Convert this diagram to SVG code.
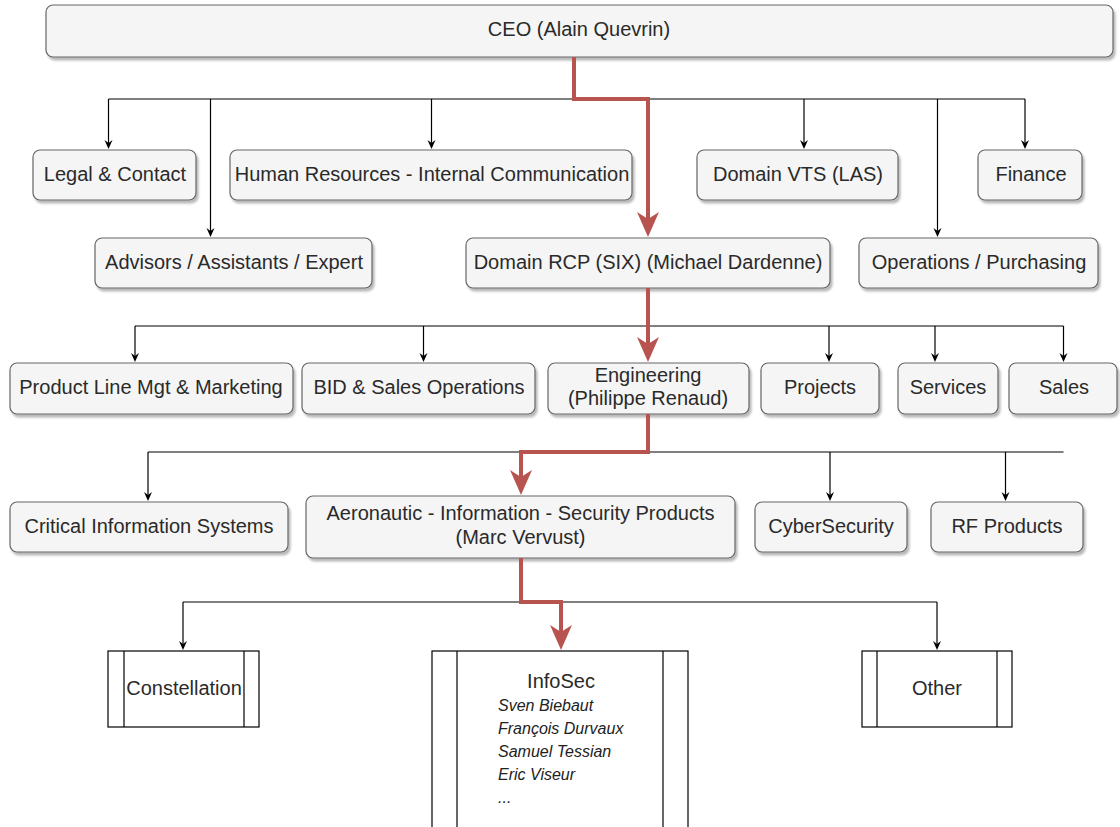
<svg xmlns="http://www.w3.org/2000/svg" width="1120" height="827" viewBox="0 0 1120 827">
  <defs>
    <filter id="shadow" x="-5%" y="-20%" width="110%" height="150%">
      <feDropShadow dx="2" dy="3" stdDeviation="1.2" flood-color="#000" flood-opacity="0.28"/>
    </filter>
    <!-- thin black arrowhead; path ends at the notch, tip reaches 6px further -->
    <marker id="arrow" markerUnits="userSpaceOnUse" markerWidth="11" markerHeight="10" viewBox="-10 -5 11 10" refX="-6" refY="0" orient="auto">
      <path d="M0,0 L-9,-4 L-6,0 L-9,4 Z" fill="#000"/>
    </marker>
    <!-- thick red arrowhead for the highlighted reporting line -->
    <marker id="arrow-red" markerUnits="userSpaceOnUse" markerWidth="28" markerHeight="26" viewBox="-26 -13 28 26" refX="-18" refY="0" orient="auto">
      <path d="M0,0 L-25,-11 L-18,0 L-25,11 Z" fill="#b85450"/>
    </marker>
    <style>
      .box { fill: #f5f5f5; stroke: #666666; stroke-width: 1.2; filter: url(#shadow); }
      .proc { fill: #ffffff; stroke: #000000; stroke-width: 1.2; }
      .lbl { font-family: "Liberation Sans", Arial, sans-serif; font-size: 20px; fill: #2a2a2a; text-anchor: middle; dominant-baseline: central; }
      .name { font-family: "Liberation Sans", Arial, sans-serif; font-size: 16px; font-style: italic; fill: #222222; }
      .link { fill: none; stroke: #000; stroke-width: 1.2; marker-end: url(#arrow); }
      .bus { fill: none; stroke: #000; stroke-width: 1.2; }
      .path-red-end { fill: none; stroke: #b85450; stroke-width: 4; marker-end: url(#arrow-red); }
    </style>
  </defs>

  <!-- Nodes -->
  <g id="ceo"><rect class="box" x="46" y="5" width="1067" height="52" rx="7"/><text class="lbl" x="579" y="29">CEO (Alain Quevrin)</text></g>

  <g id="legal"><rect class="box" x="33" y="150" width="163" height="50" rx="7"/><text class="lbl" x="115" y="173.5">Legal &amp; Contact</text></g>
  <g id="hr"><rect class="box" x="230" y="150" width="402" height="50" rx="7"/><text class="lbl" x="432" y="173.5">Human Resources - Internal Communication</text></g>
  <g id="vts"><rect class="box" x="697" y="150" width="201" height="50" rx="7"/><text class="lbl" x="798" y="173.5">Domain VTS (LAS)</text></g>
  <g id="finance"><rect class="box" x="978" y="150" width="104" height="50" rx="7"/><text class="lbl" x="1031" y="173.5">Finance</text></g>

  <g id="advisors"><rect class="box" x="95" y="238" width="277" height="50" rx="7"/><text class="lbl" x="234" y="261.5">Advisors / Assistants / Expert</text></g>
  <g id="rcp"><rect class="box" x="466" y="238" width="364" height="50" rx="7"/><text class="lbl" x="648" y="261.5">Domain RCP (SIX) (Michael Dardenne)</text></g>
  <g id="operations"><rect class="box" x="859" y="238" width="239" height="50" rx="7"/><text class="lbl" x="979" y="261.5">Operations / Purchasing</text></g>

  <g id="product-line"><rect class="box" x="10" y="363" width="283" height="51" rx="7"/><text class="lbl" x="151" y="387">Product Line Mgt &amp; Marketing</text></g>
  <g id="bid"><rect class="box" x="302" y="363" width="233" height="51" rx="7"/><text class="lbl" x="419" y="387">BID &amp; Sales Operations</text></g>
  <g id="engineering"><rect class="box" x="548" y="363" width="201" height="51" rx="7"/><text class="lbl" x="648" y="375">Engineering</text><text class="lbl" x="648" y="398">(Philippe Renaud)</text></g>
  <g id="projects"><rect class="box" x="761" y="363" width="118" height="51" rx="7"/><text class="lbl" x="820" y="387">Projects</text></g>
  <g id="services"><rect class="box" x="898" y="363" width="100" height="51" rx="7"/><text class="lbl" x="948" y="387">Services</text></g>
  <g id="sales"><rect class="box" x="1009" y="363" width="108" height="51" rx="7"/><text class="lbl" x="1064" y="387">Sales</text></g>

  <g id="critical"><rect class="box" x="10" y="502" width="278" height="50" rx="7"/><text class="lbl" x="149" y="525.5">Critical Information Systems</text></g>
  <g id="aeronautic"><rect class="box" x="306" y="496" width="429" height="62" rx="7"/><text class="lbl" x="520.5" y="513">Aeronautic - Information - Security Products</text><text class="lbl" x="520.5" y="537">(Marc Vervust)</text></g>
  <g id="cybersecurity"><rect class="box" x="755" y="502" width="152" height="50" rx="7"/><text class="lbl" x="831" y="525.5">CyberSecurity</text></g>
  <g id="rf"><rect class="box" x="931" y="502" width="152" height="50" rx="7"/><text class="lbl" x="1007" y="525.5">RF Products</text></g>

  <g id="constellation"><rect class="proc" x="108" y="651" width="151" height="76"/><line class="proc" x1="124" y1="651" x2="124" y2="727"/><line class="proc" x1="244" y1="651" x2="244" y2="727"/><text class="lbl" x="184" y="687.5">Constellation</text></g>
  <g id="infosec"><rect class="proc" x="432" y="651" width="256" height="180"/><line class="proc" x1="457" y1="651" x2="457" y2="831"/><line class="proc" x1="663" y1="651" x2="663" y2="831"/>
    <text class="lbl" x="561" y="681">InfoSec</text>
    <text class="name" x="498" y="711">Sven Biebaut</text>
    <text class="name" x="498" y="734">François Durvaux</text>
    <text class="name" x="498" y="757">Samuel Tessian</text>
    <text class="name" x="498" y="780">Eric Viseur</text>
    <text class="name" x="498" y="803">...</text>
  </g>
  <g id="other"><rect class="proc" x="862" y="651" width="150" height="76"/><line class="proc" x1="877" y1="651" x2="877" y2="727"/><line class="proc" x1="997" y1="651" x2="997" y2="727"/><text class="lbl" x="937" y="687.5">Other</text></g>

  <!-- Connectors -->
  <g id="connectors">
    <!-- CEO level -->
    <path class="bus" d="M108.5,99 H1025"/>
    <path class="link" d="M108.5,99 V143"/>
    <path class="link" d="M210.5,99 V231"/>
    <path class="link" d="M431.5,99 V143"/>
    <path class="link" d="M804,99 V143"/>
    <path class="link" d="M937.5,99 V231"/>
    <path class="link" d="M1025,99 V143"/>
    <!-- Domain RCP level -->
    <path class="bus" d="M135,326 H1063.5"/>
    <path class="link" d="M135,326 V356"/>
    <path class="link" d="M423.5,326 V356"/>
    <path class="link" d="M829,326 V356"/>
    <path class="link" d="M935,326 V356"/>
    <path class="link" d="M1063.5,326 V356"/>
    <!-- Engineering level -->
    <path class="bus" d="M148,452 H1063.5"/>
    <path class="link" d="M148,452 V495"/>
    <path class="link" d="M830,452 V495"/>
    <path class="link" d="M1005.5,452 V495"/>
    <!-- Aeronautic level -->
    <path class="bus" d="M183,602 H937"/>
    <path class="link" d="M183,602 V644"/>
    <path class="link" d="M937,602 V644"/>
    <!-- Highlighted reporting line -->
    <path class="path-red-end" d="M574,57 V99 H648 V219"/>
    <path class="path-red-end" d="M648,288 V344"/>
    <path class="path-red-end" d="M648,414 V452 H521 V477"/>
    <path class="path-red-end" d="M521,558 V602 H561 V632"/>
  </g>
</svg>
